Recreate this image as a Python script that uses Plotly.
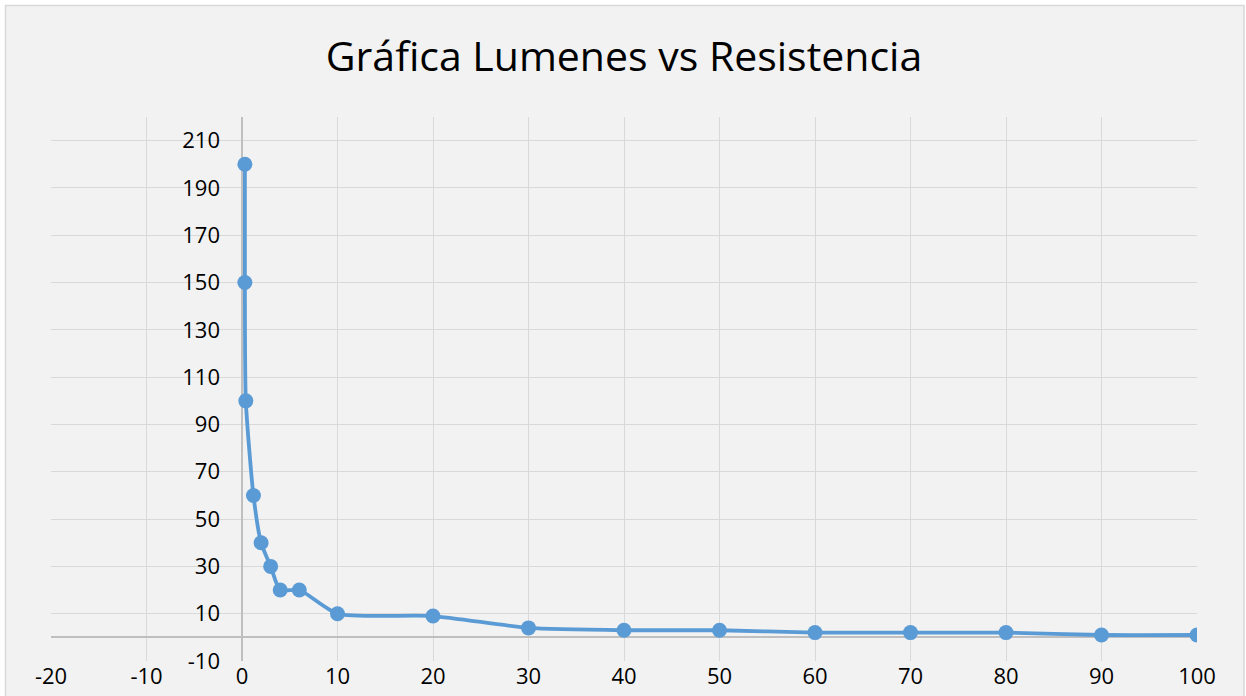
import plotly.graph_objects as go

# Data
resistencia = [0.3, 0.3, 0.4, 1.2, 2, 3, 4, 6, 10, 20, 30, 40, 50, 60, 70, 80, 90, 100]
lumenes = [200, 150, 100, 60, 40, 30, 20, 20, 10, 9, 4, 3, 3, 2, 2, 2, 1, 1]

title_text = "Gráfica Lumenes vs Resistencia"
x_ticks = list(range(-20, 101, 10))
y_ticks = list(range(-10, 211, 20))

W, H = 1246, 696
ml, mr, mt, mb = 51, 49, 117, 35
pw, ph = W - ml - mr, H - mt - mb

def px_to_paper_x(px):
    return (px - ml) / pw

def px_to_paper_y(py):
    return (H - mb - py) / ph

fig = go.Figure()
fig.add_trace(go.Scatter(
    x=resistencia, y=lumenes,
    mode="lines+markers",
    line=dict(color="#5B9BD5", width=3.8, shape="spline", smoothing=0.6),
    marker=dict(color="#5B9BD5", size=15),
    showlegend=False,
))

font_family = "Open Sans, Lato, Noto Sans, sans-serif"

fig.update_layout(
    width=W, height=H,
    margin=dict(l=ml, r=mr, t=mt, b=mb, autoexpand=False),
    paper_bgcolor="white",
    plot_bgcolor="rgba(0,0,0,0)",
    title=dict(text=title_text, x=0.5, xanchor="center", xref="paper",
               y=1 - 57 / H, yref="container", yanchor="middle",
               font=dict(family=font_family, size=41, color="#000000")),
    xaxis=dict(
        range=[-20, 100], tickmode="array", tickvals=x_ticks,
        ticktext=[str(v) for v in x_ticks],
        showgrid=True, gridcolor="#D9D9D9", gridwidth=1.3,
        zeroline=True, zerolinecolor="#BFBFBF", zerolinewidth=1.5,
        showline=False, ticks="", automargin=False,
        tickfont=dict(family=font_family, size=22, color="#000000"),
        fixedrange=True,
    ),
    yaxis=dict(
        range=[-10, 220], tickmode="array", tickvals=y_ticks,
        ticktext=[str(v) for v in y_ticks],
        anchor="free", position=20 / 120,
        showgrid=True, gridcolor="#D9D9D9", gridwidth=1.3,
        zeroline=True, zerolinecolor="#BFBFBF", zerolinewidth=1.5,
        showline=False, ticks="", automargin=False,
        ticklabelstandoff=22,
        tickfont=dict(family=font_family, size=22, color="#000000"),
        fixedrange=True,
    ),
    shapes=[dict(
        type="rect", xref="paper", yref="paper", layer="below",
        x0=px_to_paper_x(5.5), x1=px_to_paper_x(1244),
        y0=px_to_paper_y(710), y1=px_to_paper_y(5.5),
        fillcolor="#F2F2F2", line=dict(color="#D9D9D9", width=1.5),
    )],
)

fig.write_html("out.html", config={"displayModeBar": False},
               post_script="document.body.style.margin='0';")
